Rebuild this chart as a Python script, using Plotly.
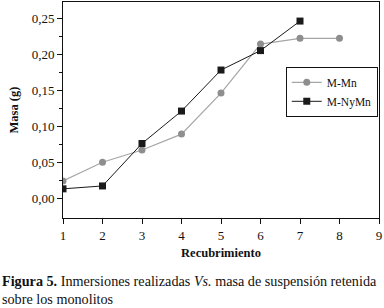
import plotly.graph_objects as go

x_vals = [1, 2, 3, 4, 5, 6, 7, 8]
m_mn = [0.025, 0.051, 0.068, 0.090, 0.147, 0.215, 0.223, 0.223]
x_ny = [1, 2, 3, 4, 5, 6, 7]
m_nymn = [0.014, 0.018, 0.077, 0.122, 0.179, 0.206, 0.247]
x_ticks = [1, 2, 3, 4, 5, 6, 7, 8, 9]
y_ticks = [0.0, 0.05, 0.10, 0.15, 0.20, 0.25]
y_tick_labels = ["0,00", "0,05", "0,10", "0,15", "0,20", "0,25"]

serif = "Liberation Serif, Times New Roman, serif"

fig = go.Figure()
fig.add_trace(go.Scatter(
    x=x_vals, y=m_mn, name="M-Mn", mode="lines+markers",
    line=dict(color="#a6a6a6", width=1.2),
    marker=dict(symbol="circle", size=7, color="#8e8e8e", line=dict(width=0)),
))
fig.add_trace(go.Scatter(
    x=x_ny, y=m_nymn, name="M-NyMn", mode="lines+markers",
    line=dict(color="#1a1a1a", width=1),
    marker=dict(symbol="square", size=7, color="#1a1a1a", line=dict(width=0)),
))

fig.update_layout(
    width=384, height=308,
    margin=dict(l=63, r=5, t=2, b=90),
    paper_bgcolor="white", plot_bgcolor="white",
    font=dict(family=serif, size=12, color="#111"),
    showlegend=True,
    legend=dict(
        x=0.705, y=0.70, xanchor="left", yanchor="top",
        bgcolor="white", bordercolor="#111", borderwidth=1,
        font=dict(family=serif, size=11.5, color="#111"),
        tracegroupgap=0, itemwidth=30,
    ),
    xaxis=dict(
        range=[1, 9], tickvals=x_ticks, ticks="outside", ticklen=5,
        tickcolor="#111", showline=True, linecolor="#111", linewidth=1,
        mirror=True, showgrid=False, zeroline=False, automargin=False,
        tickfont=dict(family=serif, size=13),
        title=dict(text="<b>Recubrimiento</b>", font=dict(family=serif, size=12.5), standoff=6),
    ),
    yaxis=dict(
        range=[-0.0265, 0.2735], tickvals=y_ticks, ticktext=y_tick_labels,
        ticks="outside", ticklen=5, tickcolor="#111",
        minor=dict(tickvals=[0.025, 0.075, 0.125, 0.175, 0.225], ticks="outside", ticklen=3, tickcolor="#111"),
        showline=True, linecolor="#111", linewidth=1,
        mirror=True, showgrid=False, zeroline=False, automargin=False,
        tickfont=dict(family=serif, size=13),
        title=dict(text="<b>Masa (g)</b>", font=dict(family=serif, size=12.5), standoff=10),
    ),
    annotations=[
        dict(text="<b>Figura 5.</b> Inmersiones realizadas <i>Vs.</i> masa de suspensión retenida",
             xref="paper", yref="paper", x=-0.199, y=-0.292, xanchor="left", yanchor="middle",
             showarrow=False, font=dict(family=serif, size=14.2, color="#111")),
        dict(text="sobre los monolitos",
             xref="paper", yref="paper", x=-0.199, y=-0.375, xanchor="left", yanchor="middle",
             showarrow=False, font=dict(family=serif, size=14.2, color="#111")),
    ],
)

fig.write_html("out.html", config={"displayModeBar": False},
               post_script="document.body.style.margin='0';document.body.style.padding='0';")
